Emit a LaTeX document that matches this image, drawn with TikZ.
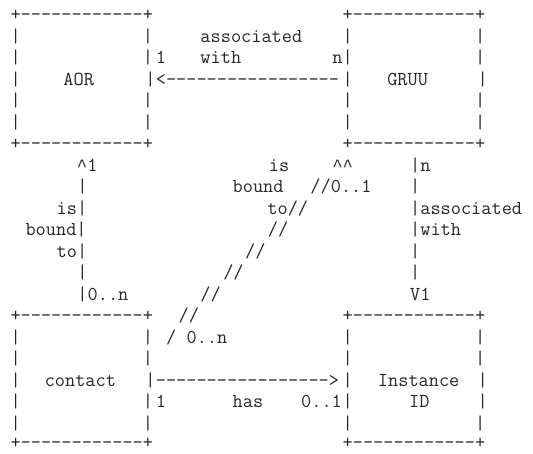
\documentclass[tikz,border=0pt]{standalone}
\usepackage{fontspec}
\newfontfamily\asciifont{Latin Modern Mono}[Ligatures=TeXOff]
\newfontfamily\caretfont{Liberation Mono}
\tikzset{txt/.style={anchor=base west, inner sep=0pt, outer sep=0pt, text=black!85,
  font=\asciifont\fontsize{19.77}{19.77}\selectfont}}
\newcommand\T[4]{\node[txt] (#1) at ({10.51+10.38*(#2)},{-(20.5+21.5*((#3)-1))}) {#4};}
\newcommand\B[4]{\node[txt,text depth=0pt] (#1) at ({10.51+10.38*(#2)},{-(18.3+21.5*((#3)-1))}) {#4};}
\newcommand\crt{{\caretfont\fontsize{17.3}{17.3}\selectfont\textasciicircum}}
\newcommand\sides{|~~~~~~~~~~~~|}
\begin{document}
\begin{tikzpicture}[x=1pt,y=1pt]
\useasboundingbox (0,0) rectangle (533,-453);
% line 1
\T{a1}{0}{1}{+------------+}
\T{g1}{32}{1}{+------------+}
% line 2
\T{a2}{0}{2}{\sides}
\T{l2}{18.3}{2}{associated}
\T{g2}{32}{2}{\sides}
% line 3
\T{a3}{0}{3}{\sides}
\T{l3a}{14}{3}{1}
\T{l3b}{18.3}{3}{with}
\T{l3c}{31}{3}{n}
\T{g3}{32}{3}{\sides}
% line 4
\T{a4l}{0}{4}{|}
\T{aor}{5.1}{4}{AOR}
\T{a4r}{13}{4}{|}
\T{arr1}{14}{4}{<-----------------}
\T{g4l}{32}{4}{|}
\T{gruu}{36.3}{4}{GRUU}
\T{g4r}{45}{4}{|}
% lines 5-6
\T{a5}{0}{5}{\sides}
\T{g5}{32}{5}{\sides}
\T{a6}{0}{6}{\sides}
\T{g6}{32}{6}{\sides}
% line 7
\T{a7}{0}{7}{+------------+}
\T{g7}{32}{7}{+------------+}
% line 8
\T{m8a}{6.4}{8}{\crt1}
\T{m8b}{24.9}{8}{is}
\T{m8c}{31}{8}{\crt\crt}
\T{m8d}{38.5}{8}{|n}
% line 9
\T{m9a}{6.45}{9}{|}
\T{m9b}{21.4}{9}{bound}
\T{m9c}{28.9}{9}{//0..1}
\T{m9d}{38.5}{9}{|}
% line 10
\T{m10a}{4.45}{10}{is|}
\T{m10b}{24.75}{10}{to//}
\T{m10c}{38.5}{10}{|associated}
% line 11
\T{m11a}{1.45}{11}{bound|}
\T{m11b}{24.8}{11}{//}
\T{m11c}{38.5}{11}{|with}
% line 12
\T{m12a}{4.45}{12}{to|}
\T{m12b}{22.6}{12}{//}
\T{m12c}{38.5}{12}{|}
% line 13
\T{m13a}{6.45}{13}{|}
\T{m13b}{20.5}{13}{//}
\T{m13c}{38.5}{13}{|}
% line 14
\T{m14a}{6.45}{14}{|0..n}
\T{m14b}{18.3}{14}{//}
\T{m14c}{38.5}{14}{V1}
% line 15
\T{c15}{0}{15}{+------------+}
\T{m15}{16.2}{15}{//}
\T{i15}{32}{15}{+------------+}
% line 16
\T{c16}{0}{16}{\sides}
\T{m16}{15.0}{16}{/~0..n}
\T{i16}{32}{16}{\sides}
% line 17
\T{c17}{0}{17}{\sides}
\T{i17}{32}{17}{\sides}
% line 18
\T{c18l}{0}{18}{|}
\T{contact}{3.3}{18}{contact}
\T{c18r}{13}{18}{|}
\T{arr2}{14}{18}{----------------->}
\T{i18l}{32}{18}{|}
\T{inst}{35.4}{18}{Instance}
\T{i18r}{45}{18}{|}
% line 19
\T{c19}{0}{19}{\sides}
\T{l19a}{14}{19}{1}
\T{l19b}{21.4}{19}{has}
\T{l19c}{28}{19}{0..1}
\T{i19l}{32}{19}{|}
\T{id}{38.4}{19}{ID}
\T{i19r}{45}{19}{|}
% line 20
\T{c20}{0}{20}{\sides}
\T{i20}{32}{20}{\sides}
% line 21
\B{c21}{0}{21}{+------------+}
\B{i21}{32}{21}{+------------+}
\end{tikzpicture}
\end{document}
